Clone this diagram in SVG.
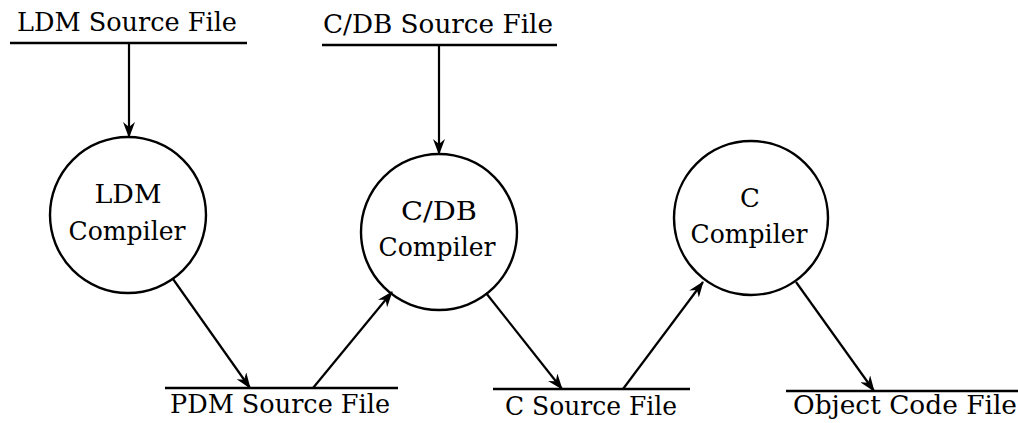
<svg xmlns="http://www.w3.org/2000/svg" width="1018" height="423" viewBox="0 0 1018 423">
<defs>
<style>
.t{font-family:'DejaVu Serif',serif;font-size:26px;fill:#000}
.c{text-anchor:middle}
.node{fill:none;stroke:#000;stroke-width:2.4}
.store{stroke:#000;stroke-width:2.4}
.edge{stroke:#000;stroke-width:2.2;fill:none}
</style>
<marker id="arr" viewBox="0 0 16 12" refX="15" refY="6" markerWidth="16" markerHeight="12" markerUnits="userSpaceOnUse" orient="auto">
<path d="M0,0 L16,6 L0,12 L5,6 z" fill="#000"/>
</marker>
</defs>
<g id="ldm-source">
<line class="store" x1="10" y1="43" x2="247" y2="43"/>
<text class="t" x="17" y="31" textLength="220" lengthAdjust="spacingAndGlyphs">LDM Source File</text>
</g>
<g id="cdb-source">
<line class="store" x1="322" y1="45" x2="557" y2="45"/>
<text class="t" x="323" y="33" textLength="230" lengthAdjust="spacingAndGlyphs">C/DB Source File</text>
</g>
<g id="ldm-compiler">
<circle class="node" cx="128" cy="215" r="78"/>
<text class="t c" x="128" y="203" textLength="67" lengthAdjust="spacingAndGlyphs">LDM</text>
<text class="t c" x="127" y="240" textLength="117" lengthAdjust="spacingAndGlyphs">Compiler</text>
</g>
<g id="cdb-compiler">
<circle class="node" cx="439" cy="232" r="78"/>
<text class="t c" x="439" y="220" textLength="76" lengthAdjust="spacingAndGlyphs">C/DB</text>
<text class="t c" x="437" y="256" textLength="117" lengthAdjust="spacingAndGlyphs">Compiler</text>
</g>
<g id="c-compiler">
<circle class="node" cx="751" cy="218" r="77"/>
<text class="t c" x="750" y="207">C</text>
<text class="t c" x="749" y="243" textLength="117" lengthAdjust="spacingAndGlyphs">Compiler</text>
</g>
<g id="pdm-source">
<line class="store" x1="165" y1="388" x2="398" y2="388"/>
<text class="t" x="170" y="413" textLength="220" lengthAdjust="spacingAndGlyphs">PDM Source File</text>
</g>
<g id="c-source">
<line class="store" x1="493" y1="389" x2="690" y2="389"/>
<text class="t" x="505" y="415" textLength="172" lengthAdjust="spacingAndGlyphs">C Source File</text>
</g>
<g id="object-code">
<line class="store" x1="786" y1="391" x2="1018" y2="391"/>
<text class="t" x="793" y="414" textLength="224" lengthAdjust="spacingAndGlyphs">Object Code File</text>
</g>
<g id="connectors">
<line class="edge" marker-end="url(#arr)" x1="129" y1="43" x2="129" y2="137"/>
<line class="edge" marker-end="url(#arr)" x1="439" y1="45" x2="439" y2="154"/>
<line class="edge" marker-end="url(#arr)" x1="173" y1="279" x2="250" y2="388"/>
<line class="edge" marker-end="url(#arr)" x1="313" y1="388" x2="392" y2="292"/>
<line class="edge" marker-end="url(#arr)" x1="486" y1="293" x2="562" y2="389"/>
<line class="edge" marker-end="url(#arr)" x1="623" y1="389" x2="703" y2="282"/>
<line class="edge" marker-end="url(#arr)" x1="796" y1="282" x2="874" y2="391"/>
</g>
</svg>
